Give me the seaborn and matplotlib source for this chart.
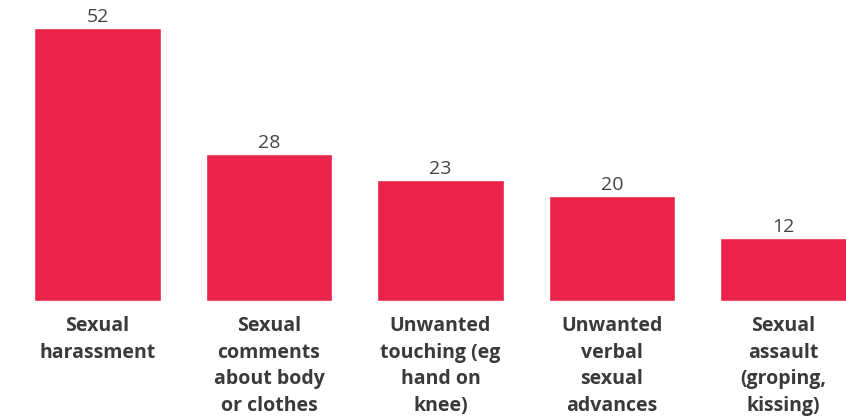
import matplotlib
matplotlib.use("Agg")
import matplotlib.pyplot as plt
import seaborn as sns
import pandas as pd

categories = [
    "Sexual\nharassment",
    "Sexual\ncomments\nabout body\nor clothes",
    "Unwanted\ntouching (eg\nhand on\nknee)",
    "Unwanted\nverbal\nsexual\nadvances",
    "Sexual\nassault\n(groping,\nkissing)",
]
values = [52, 28, 23, 20, 12]

df = pd.DataFrame({"category": categories, "value": values})

sns.set_theme(style="white")
plt.rcParams["font.family"] = ["Open Sans", "DejaVu Sans"]

fig = plt.figure(figsize=(8.46, 4.17), dpi=100)
ax = fig.add_axes([0, 0.2782, 1, 0.7218])

sns.barplot(data=df, x="category", y="value", color="#EB2249",
            saturation=1, width=0.74, ax=ax)

ax.set_xlim(-0.5685, 4.3644)
ax.set_ylim(0, 57.33)

for i, v in enumerate(values):
    ax.text(i, v + 0.45, str(v), ha="center", va="bottom",
            fontsize=14, color="#444444")

ax.set_xlabel("")
ax.set_ylabel("")
ax.set_yticks([])
ax.tick_params(axis="x", length=0, pad=11)
for lab in ax.get_xticklabels():
    lab.set_fontsize(14)
    lab.set_fontweight("bold")
    lab.set_color("#3a3a3a")
    lab.set_linespacing(1.43)
    lab.set_va("top")
sns.despine(ax=ax, left=True, bottom=True)

fig.savefig("out.png", dpi=100)
